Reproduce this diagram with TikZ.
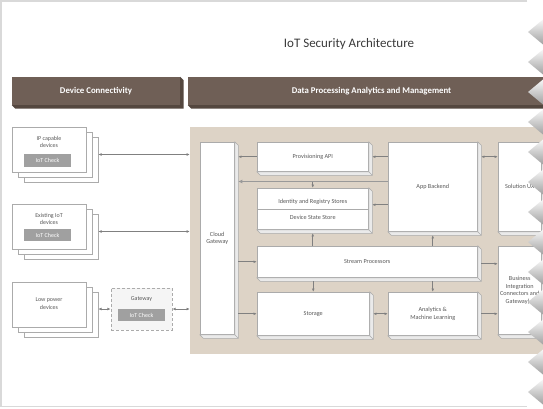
\documentclass[tikz,border=0pt]{standalone}
\usepackage{fontspec}
\setmainfont{Carlito}
\usetikzlibrary{arrows.meta,calc}
\definecolor{hdrbrown}{HTML}{6F5F56}
\definecolor{hdrdark}{HTML}{54473F}
\definecolor{beige}{HTML}{DDD3C6}
\definecolor{txtgray}{HTML}{595959}
\definecolor{titlegray}{HTML}{3A3A3A}
\definecolor{arrgray}{HTML}{808080}
\definecolor{chkgray}{HTML}{A0A0A0}
\definecolor{boxline}{HTML}{ABABAB}
\definecolor{bevelfill}{HTML}{EAEAEA}
\begin{document}
\begin{tikzpicture}[x=1pt,y=-1pt,
  hdr/.style={fill=hdrbrown, text=white, font=\bfseries\fontsize{8.8}{10}\selectfont, inner sep=0, minimum height=28},
  dev/.style={draw=boxline, fill=white, line width=0.6pt, minimum width=74, minimum height=45, inner sep=0},
  chk/.style={fill=chkgray, text=white, font=\fontsize{6}{7}\selectfont, minimum width=47, minimum height=12.5, inner sep=0},
  lbl/.style={text=txtgray, font=\fontsize{6}{7.6}\selectfont, align=center, inner sep=0},
  box3d/.style={draw=boxline, fill=white, line width=0.5pt, inner sep=0, text=txtgray, font=\fontsize{6.2}{7.7}\selectfont, align=center},
  bevel/.style={fill=bevelfill, draw=boxline, line width=0.5pt},
  tip/.tip={Latex[length=3.2pt,width=2.8pt]},
  arr/.style={draw=arrgray, line width=0.8pt, -tip},
  dbl/.style={draw=arrgray, line width=0.8pt, tip-tip},
  bus/.style={draw=arrgray!80, line width=1.8pt, -{Latex[length=4pt,width=4pt]}}
]
\useasboundingbox (0,0) rectangle (543,408);
\clip (0,0) rectangle (543,408);
\fill[white] (0,0) rectangle (543,408);
\draw[gray!30, line width=1.2pt] (527,1) -- (1,1) -- (1,406.5) -- (527,406.5);

% title
\node[font=\fontsize{13}{15}\selectfont, text=titlegray] (title) at (349,44) {IoT Security Architecture};

% headers
\node[hdr, minimum width=168] (hdrL) at (96,91) {Device Connectivity};
\node[hdr, minimum width=367] (hdrR) at (371.5,91) {Data Processing Analytics and Management};
\foreach \n in {hdrL,hdrR}{
  \fill[hdrdark] (\n.north east) -- ++(3.5,3.5) -- ([shift={(3.5,3.5)}]\n.south east) -- ([shift={(3.5,3.5)}]\n.south west) -- (\n.south west) -- (\n.south east) -- cycle;
}

% panel
\node[fill=beige, minimum width=370, minimum height=227, inner sep=0] (panel) at (375,240.5) {};

% device stacks
\node[dev] (ip3) at (61,160) {};
\node[dev] (ip2) at (55,154.5) {};
\node[dev] (ip1) at (49,149.5) {};
\node[lbl] (iplbl) at (49,142) {IP capable\\devices};
\node[chk] (ipchk) at (47.5,160.5) {IoT Check};

\node[dev] (ex3) at (61,237) {};
\node[dev] (ex2) at (55,231.5) {};
\node[dev] (ex1) at (49,226.5) {};
\node[lbl] (exlbl) at (49,219) {Existing IoT\\devices};
\node[chk] (exchk) at (47.5,235) {IoT Check};

\node[dev] (lp3) at (61,315) {};
\node[dev] (lp2) at (55,309.5) {};
\node[dev] (lp1) at (49,304.5) {};
\node[lbl] (lplbl) at (49,303.5) {Low power\\devices};

% gateway
\node[draw=boxline, dashed, dash pattern=on 3pt off 2pt, fill=gray!8, line width=0.7pt, minimum width=61, minimum height=42, inner sep=0] (gw) at (141.5,309) {};
\node[lbl] (gwlbl) at (141.5,299) {Gateway};
\node[chk, minimum width=47, minimum height=12] (gwchk) at (141.5,315) {IoT Check};

% 3D boxes
\node[box3d, minimum width=34.5, minimum height=192.5] (cloud) at (217.25,238.25) {Cloud\\Gateway};
\node[box3d, minimum width=111.5, minimum height=29.5] (prov) at (312.75,156.75) {Provisioning API};
\node[box3d, minimum width=111.5, minimum height=41.5] (ids) at (312.75,208.75) {};
\node[box3d, minimum width=89.5, minimum height=89.5] (app) at (432.75,186.75) {App Backend};
\node[box3d, minimum width=43.5, minimum height=89.5] (solution) at (519.75,186.75) {Solution UX};
\node[box3d, minimum width=220.5, minimum height=31.5] (stream) at (367.25,261.75) {Stream Processors};
\node[box3d, minimum width=112.5, minimum height=43.5] (storage) at (313.25,313.75) {Storage};
\node[box3d, minimum width=89.5, minimum height=43.5] (analytics) at (432.75,313.75) {Analytics \&\\Machine Learning};
\node[box3d, minimum width=43.5, minimum height=88.5] (business) at (519.75,290.25) {Business\\Integration\\Connectors and\\Gateway(s)};
\foreach \n in {cloud,prov,ids,app,solution,stream,storage,analytics,business}{
  \filldraw[bevel] (\n.north east) -- ++(3.5,3.5) -- ([shift={(3.5,3.5)}]\n.south east) -- ([shift={(3.5,3.5)}]\n.south west) -- (\n.south west) -- (\n.south east) -- cycle;
  \draw[boxline, line width=0.5pt] (\n.south east) -- ++(3.5,3.5);
  \coordinate (\n-E) at ([xshift=3.5pt]\n.east);
  \coordinate (\n-S) at ([yshift=-3.5pt]\n.south);
}
\draw[boxline, line width=0.5pt] (ids.west) -- (ids.east);
\node[lbl, font=\fontsize{6.2}{7.7}\selectfont] (idsA) at ([yshift=6.75pt]ids.center) {Identity and Registry Stores};
\node[lbl, font=\fontsize{6.2}{7.7}\selectfont] (idsB) at ([yshift=-8.25pt]ids.center) {Device State Store};

% connectors left
\draw[dbl] (ip3.east |- ip2.center) -- (panel.west |- ip2.center);
\draw[dbl] (ex3.east |- ex2.center) -- (panel.west |- ex2.center);
\draw[dbl] (lp3.east |- gw.west) -- (gw.west);
\draw[dbl] (gw.east) -- (panel.west |- gw.east);

% connectors inside panel
\draw[arr] (prov.west) -- (cloud-E |- prov.west);
\coordinate (busP) at ($(prov-S)!0.5!(ids.north)$);
\draw[bus] (app.west |- busP) -- (cloud-E |- busP);
\draw[arr] (busP) -- (ids.north);
\draw[arr] (app.west |- prov.east) -- (prov-E);
\coordinate (idsArr) at ([yshift=4pt]ids-E);
\draw[arr] (app.west |- idsArr) -- (idsArr);
\draw[arr] (ids-S |- stream.north) -- (ids-S);
\draw[arr] (app-S |- stream.north) -- (app-S);
\draw[arr] (cloud-E |- stream.west) -- (stream.west);
\draw[arr] (cloud-E |- storage.west) -- (storage.west);
\draw[arr] (storage.north |- stream-S) -- (storage.north);
\draw[arr] (analytics.north |- stream-S) -- (analytics.north);
\draw[dbl] (storage-E) -- (analytics.west);
\draw[arr] (analytics-E) -- (business.west |- analytics-E);
\coordinate (strArr) at ([yshift=-2pt]stream-E);
\draw[arr] (strArr) -- (business.west |- strArr);
\draw[dbl] (app-E |- prov.east) -- (solution.west |- prov.east);

% torn edge
\foreach \k in {0,...,12}{
  \pgfmathsetmacro\ty{32+30*\k}
  \shade[top color=white, bottom color=gray!80] (546,\ty-15) -- (528,\ty) -- (546,\ty+15) -- cycle;
}
\end{tikzpicture}
\end{document}
